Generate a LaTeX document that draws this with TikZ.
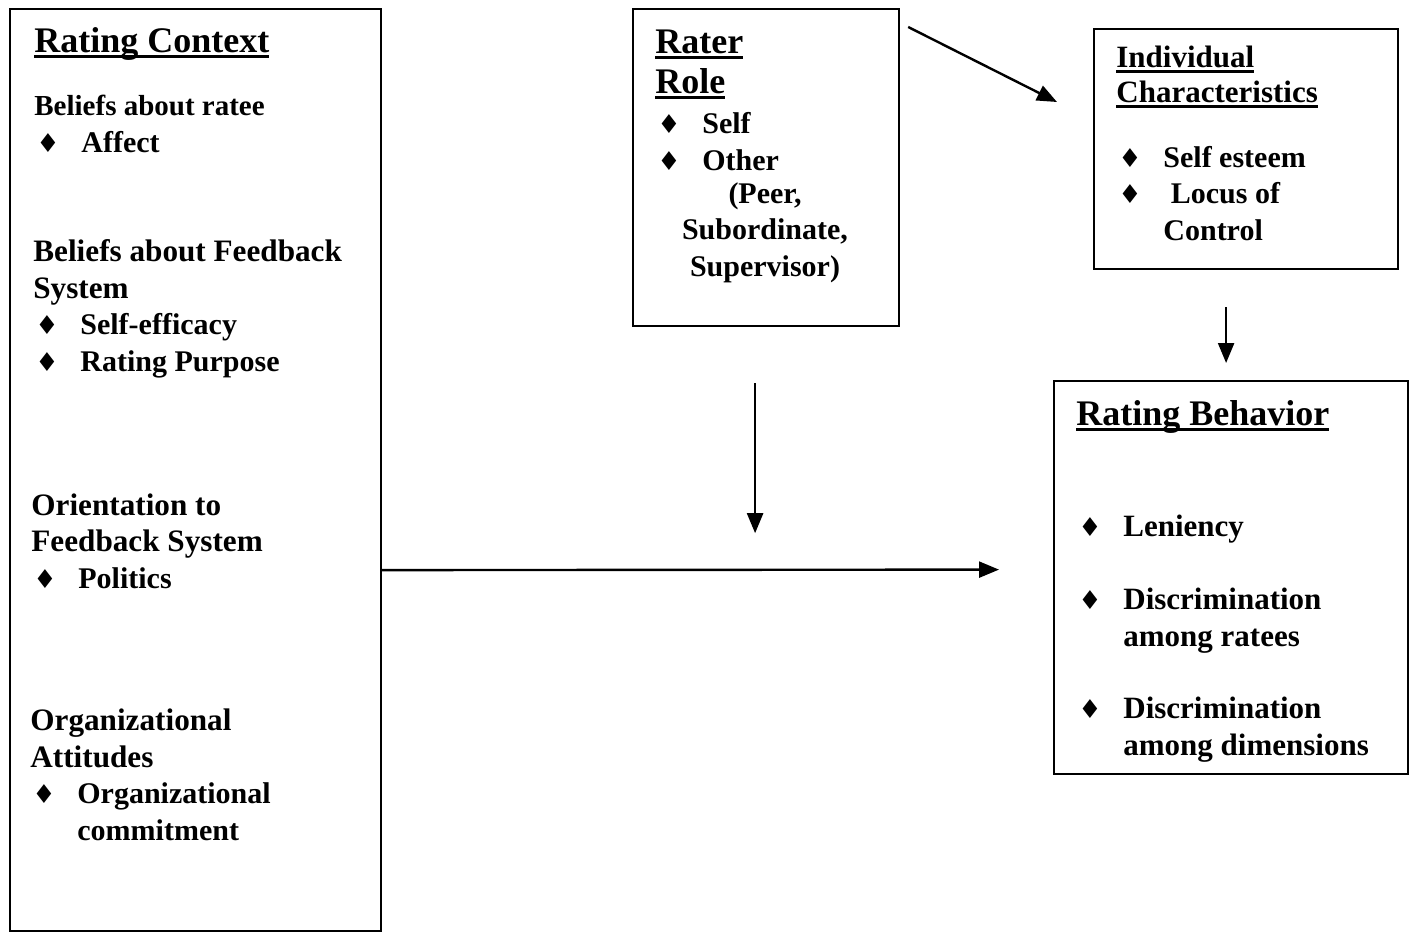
\documentclass[tikz,border=0pt]{standalone}
\usepackage{fontspec}
\setmainfont{Liberation Serif}
\newfontfamily\symfont{DejaVu Sans}
\usetikzlibrary{arrows.meta}

\newsavebox\ulbox
\newcommand\uln[1]{\sbox\ulbox{#1}\rlap{\rule[-3.2pt]{\wd\ulbox}{1.5pt}}\usebox\ulbox}
\newcommand\hd[1]{{\fontsize{15.6}{18.25}\selectfont #1}}
\newcommand\diam{{\symfont\fontsize{13}{13}\selectfont ♦}}
\newcommand\itm{\hspace*{1pt}\makebox[22.5pt][l]{\diam}}
\newcommand\ind{\hspace*{23.5pt}}

\begin{document}
\begin{tikzpicture}[
  x=0.5pt, y=-0.5pt,
  panel/.style={draw, line width=1.1pt, inner sep=0, anchor=north west},
  title/.style={font=\fontsize{18}{20}\selectfont\bfseries, anchor=base west, inner sep=0, align=left},
  body/.style={font=\fontsize{15}{18.25}\selectfont\bfseries, anchor=base west, inner sep=0, align=left},
  arrow/.style={-{Triangle[length=10pt, width=8pt]}, line width=1.2pt}
]
\useasboundingbox (0,0) rectangle (1409,932);

\node[panel, minimum width=185.5pt, minimum height=461pt] (context) at (9,8) {};
\node[panel, minimum width=133pt, minimum height=158.5pt] (role) at (632,8) {};
\node[panel, minimum width=152pt, minimum height=120pt] (indiv) at (1093,28) {};
\node[panel, minimum width=177pt, minimum height=196.5pt] (behav) at (1053,380) {};

\node[title] (contexttitle) at (34,52) {\uln{Rating Context}};
\node[body] (ratee) at (34,152) {\fontsize{14.5}{18.25}\selectfont Beliefs about ratee\\\itm Affect};
\node[body] (system) at (33,371) {\hd{Beliefs about Feedback}\\\hd{System}\\\itm Self-efficacy\\\itm Rating Purpose};
\node[body] (orient) at (31,588) {\hd{Orientation to}\\\hd{Feedback System}\\\itm Politics};
\node[body] (attitude) at (30,840) {\hd{Organizational}\\\hd{Attitudes}\\\itm Organizational\\\ind commitment};

\node[title] (roletitle) at (655,93) {\uln{Rater}\\\uln{Role}};
\node[body] (roleitems) at (655,170) {\itm Self\\\itm Other};
\node[body, anchor=base, align=center] (others) at (765,276) {(Peer,\\Subordinate,\\Supervisor)};

\node[body, font=\fontsize{15.5}{17.5}\selectfont\bfseries] (indivtitle) at (1116,102) {\uln{Individual}\\\uln{Characteristics}};
\node[body] (indivitems) at (1116,240) {\itm Self esteem\\\itm\ Locus of\\\ind Control};

\node[title] (behavtitle) at (1076,425) {\uln{Rating Behavior}};
\node[body, font=\fontsize{15.5}{18.25}\selectfont\bfseries] (lenient) at (1076,536) {\itm Leniency};
\node[body, font=\fontsize{15.5}{18.25}\selectfont\bfseries] (discratee) at (1076,646) {\itm Discrimination\\\ind among ratees};
\node[body, font=\fontsize{15.5}{18.25}\selectfont\bfseries] (discdim) at (1076,755) {\itm Discrimination\\\ind among dimensions};

\draw[arrow] ([shift={(8,19)}]role.north east) -- ([shift={(-36,74)}]indiv.north west);
\draw[arrow] ([shift={(-20,37)}]indiv.south) -- ([shift={(-5,-17)}]behav.north);
\draw[arrow] ([shift={(-11,56)}]role.south) -- ++(0,150);
\draw[arrow] ([shift={(0,100)}]context.east) -- ([shift={(-54,-8)}]behav.west);
\end{tikzpicture}
\end{document}
